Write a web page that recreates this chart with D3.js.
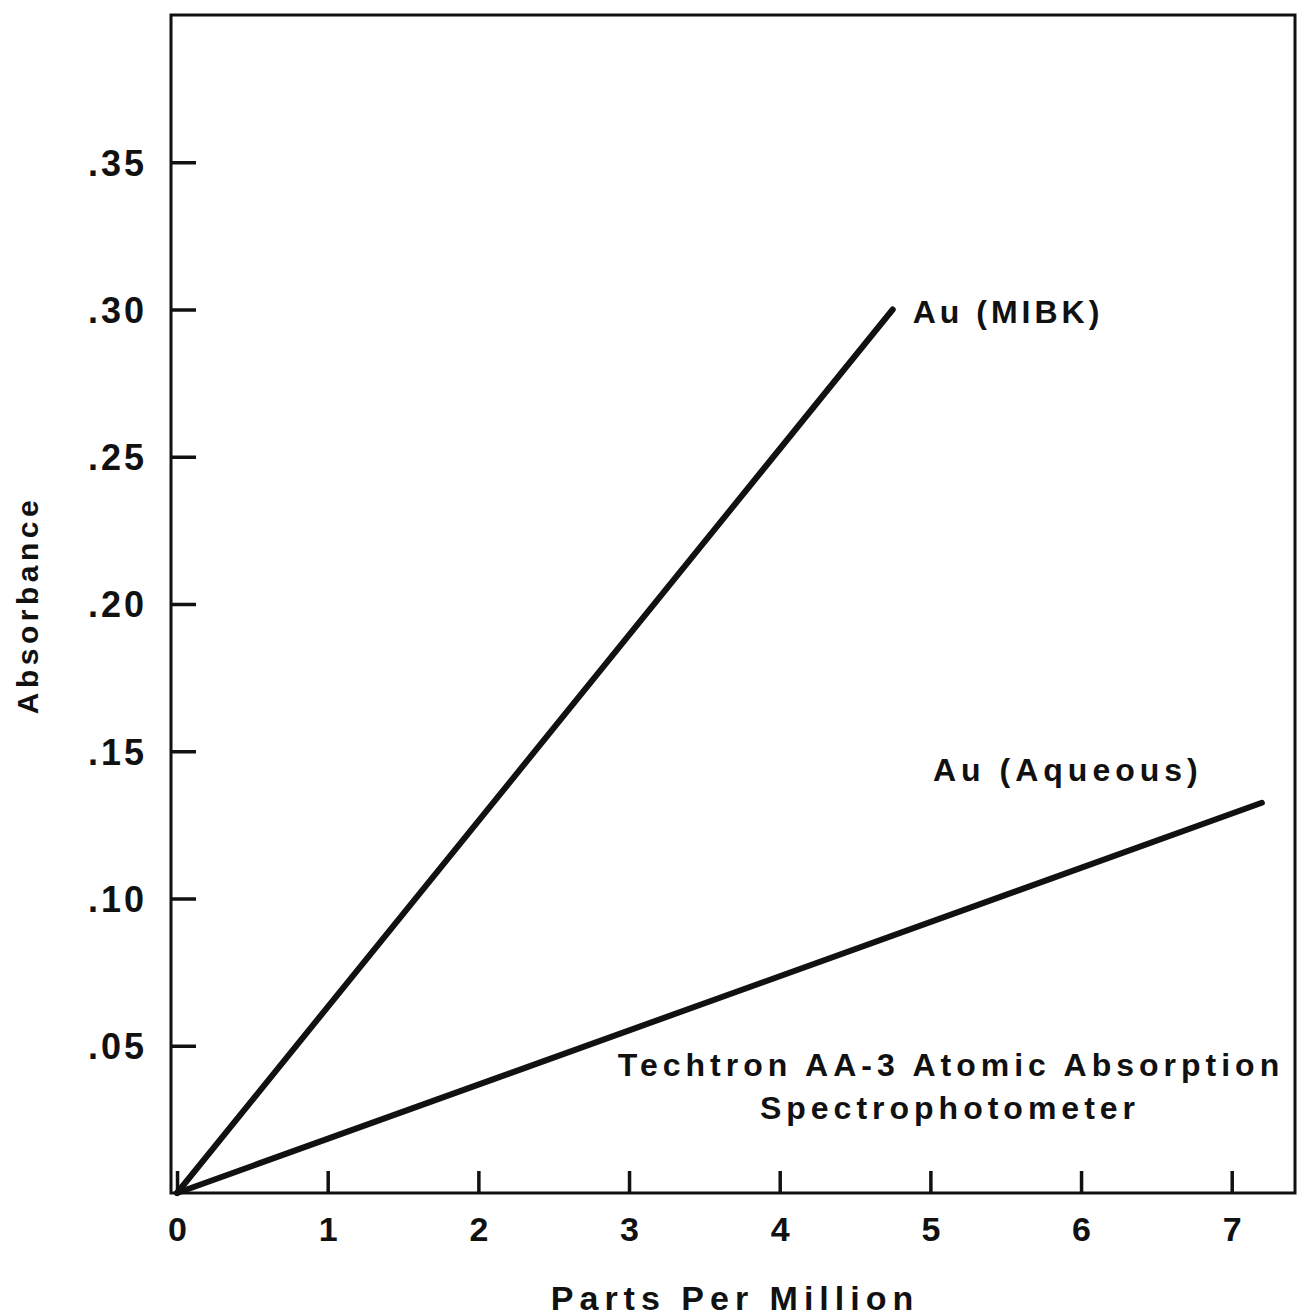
<!DOCTYPE html>
<html>
<head>
<meta charset="utf-8">
<script src="https://cdn.jsdelivr.net/npm/d3@7"></script>
<style>
    body { margin: 0; background: #fff; }
    text { font-family: "Liberation Sans", Arial, sans-serif; font-weight: bold; fill: #111; }
</style>
</head>
<body>
<div id="chart-container"></div>
<script>
// Calibration lines (ppm, absorbance)
const mibkPoints = [[0, 0], [4.75, 0.30]];
const aqueousPoints = [[0, 0], [7.2, 0.1325]];

const xTicks = [0, 1, 2, 3, 4, 5, 6, 7];
const yTicks = [0.05, 0.10, 0.15, 0.20, 0.25, 0.30, 0.35];
const yTickLabels = ['.05', '.10', '.15', '.20', '.25', '.30', '.35'];

const W = 1298, H = 1316;
const margin = { top: 15, right: 3, bottom: 123, left: 171 };

const svg = d3.select('#chart-container')
    .append('svg')
    .attr('width', W)
    .attr('height', H);

const xScale = d3.scaleLinear()
    .domain([-0.04, 7.42])
    .range([margin.left, W - margin.right]);

const yScale = d3.scaleLinear()
    .domain([0, 0.40])
    .range([H - margin.bottom, margin.top]);

const x0 = xScale.range()[0], x1 = xScale.range()[1];
const y0 = yScale.range()[0], y1 = yScale.range()[1];

// Frame
svg.append('rect')
    .attr('x', x0)
    .attr('y', y1)
    .attr('width', x1 - x0)
    .attr('height', y0 - y1)
    .attr('fill', 'none')
    .attr('stroke', '#111')
    .attr('stroke-width', 3);

// X axis: ticks point inward (up)
const xAxis = svg.append('g')
    .attr('transform', `translate(0,${y0})`)
    .call(d3.axisTop(xScale).tickValues(xTicks).tickSize(22).tickFormat(''));
xAxis.select('.domain').remove();
xAxis.selectAll('line').attr('stroke', '#111').attr('stroke-width', 3.5);

xAxis.selectAll('.tick')
    .append('text')
    .attr('y', 48)
    .attr('text-anchor', 'middle')
    .attr('font-size', 34)
    .text(d => d);

// Y axis: ticks point inward (right)
const yAxis = svg.append('g')
    .attr('transform', `translate(${x0},0)`)
    .call(d3.axisRight(yScale).tickValues(yTicks).tickSize(25).tickFormat(''));
yAxis.select('.domain').remove();
yAxis.selectAll('line').attr('stroke', '#111').attr('stroke-width', 3.5);

yAxis.selectAll('.tick')
    .append('text')
    .attr('x', -24)
    .attr('dy', '0.36em')
    .attr('text-anchor', 'end')
    .attr('font-size', 36)
    .attr('letter-spacing', 3)
    .text((d, i) => yTickLabels[i]);

// Axis titles
svg.append('text')
    .attr('x', 735)
    .attr('y', 1310)
    .attr('text-anchor', 'middle')
    .attr('font-size', 34)
    .attr('letter-spacing', 6)
    .text('Parts Per Million');

svg.append('text')
    .attr('transform', 'translate(38,605) rotate(-90)')
    .attr('text-anchor', 'middle')
    .attr('font-size', 30)
    .attr('letter-spacing', 4.5)
    .text('Absorbance');

// Lines
const line = d3.line()
    .x(d => xScale(d[0]))
    .y(d => yScale(d[1]));

[mibkPoints, aqueousPoints].forEach(pts => {
    svg.append('path')
        .datum(pts)
        .attr('fill', 'none')
        .attr('stroke', '#111')
        .attr('stroke-width', 6)
        .attr('stroke-linecap', 'round')
        .attr('d', line);
});

// Line labels
svg.append('text')
    .attr('x', xScale(4.75) + 20)
    .attr('y', yScale(0.30) + 13)
    .attr('font-size', 32)
    .attr('letter-spacing', 4)
    .text('Au (MIBK)');

svg.append('text')
    .attr('x', 933)
    .attr('y', 781)
    .attr('font-size', 32)
    .attr('letter-spacing', 5)
    .text('Au (Aqueous)');

// Instrument note
svg.append('text')
    .attr('x', 951)
    .attr('y', 1076)
    .attr('text-anchor', 'middle')
    .attr('font-size', 32)
    .attr('letter-spacing', 5)
    .text('Techtron AA-3 Atomic Absorption');

svg.append('text')
    .attr('x', 950)
    .attr('y', 1119)
    .attr('text-anchor', 'middle')
    .attr('font-size', 32)
    .attr('letter-spacing', 5)
    .text('Spectrophotometer');
</script>
</body>
</html>
